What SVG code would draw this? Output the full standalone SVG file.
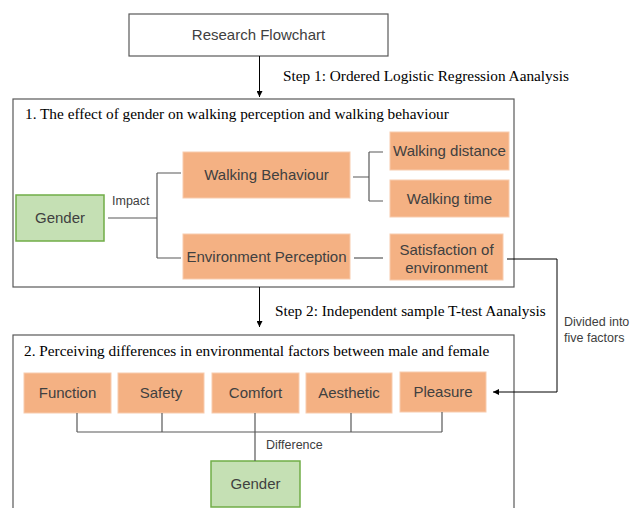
<svg xmlns="http://www.w3.org/2000/svg" width="633" height="508" viewBox="0 0 633 508">
<defs>
<marker id="arr" viewBox="0 0 10 10" refX="10" refY="5" markerWidth="6" markerHeight="6" orient="auto" markerUnits="userSpaceOnUse">
<path d="M0,0 L10,5 L0,10 z" fill="#000"/>
</marker>
<style>
.frame{fill:#fff;stroke:#595959;stroke-width:1.2}
.org{fill:#f4b183;stroke:#f8cbad;stroke-width:1}
.grn{fill:#c5e0b4;stroke:#70ad47;stroke-width:1.5}
.t{font-family:"Liberation Sans",Arial,sans-serif;font-size:15px;fill:#404040;text-anchor:middle}
.s{font-family:"Liberation Sans",Arial,sans-serif;font-size:12.5px;fill:#404040}
.serif{font-family:"Liberation Serif","Times New Roman",serif;font-size:15.3px;fill:#000}
.ln{fill:none;stroke:#595959;stroke-width:1.2}
.ar{fill:none;stroke:#000;stroke-width:1}
</style>
</defs>
<rect width="633" height="508" fill="#fff"/>

<g id="section1"><rect class="frame" x="13" y="99" width="501" height="188"/>
<text class="serif" x="25" y="119">1. The effect of gender on walking perception and walking behaviour</text></g>
<g id="section2"><rect class="frame" x="13" y="335" width="501" height="180"/>
<text class="serif" x="24" y="356">2. Perceiving differences in environmental factors between male and female</text></g>

<g id="research"><rect class="frame" x="129" y="14" width="259" height="42"/>
<text class="t" x="258.5" y="40">Research Flowchart</text></g>

<g id="gender1"><rect class="grn" x="16" y="195" width="88" height="46"/>
<text class="t" x="60" y="223">Gender</text></g>
<g id="walkingBehaviour"><rect class="org" x="183" y="152" width="167" height="46"/>
<text class="t" x="266.5" y="180">Walking Behaviour</text></g>
<g id="envPerception"><rect class="org" x="183" y="234" width="167" height="45"/>
<text class="t" x="266.5" y="262">Environment Perception</text></g>
<g id="walkingDistance"><rect class="org" x="390" y="132" width="119" height="38"/>
<text class="t" x="449.5" y="156">Walking distance</text></g>
<g id="walkingTime"><rect class="org" x="390" y="180" width="119" height="37"/>
<text class="t" x="449.5" y="204">Walking time</text></g>
<g id="satisfaction"><rect class="org" x="390" y="234" width="113" height="46"/>
<text class="t" x="446.5" y="255">Satisfaction of</text>
<text class="t" x="446.5" y="273">environment</text></g>

<g id="function"><rect class="org" x="24" y="373" width="87" height="40"/>
<text class="t" x="67.5" y="398">Function</text></g>
<g id="safety"><rect class="org" x="118" y="373" width="86" height="40"/>
<text class="t" x="161" y="398">Safety</text></g>
<g id="comfort"><rect class="org" x="212" y="373" width="87" height="40"/>
<text class="t" x="255.5" y="398">Comfort</text></g>
<g id="aesthetic"><rect class="org" x="306" y="373" width="86" height="40"/>
<text class="t" x="349" y="398">Aesthetic</text></g>
<g id="pleasure"><rect class="org" x="400" y="372" width="86" height="40"/>
<text class="t" x="443" y="397">Pleasure</text></g>
<g id="gender2"><rect class="grn" x="211" y="461" width="89" height="46"/>
<text class="t" x="255.5" y="489">Gender</text></g>

<g id="connectors">
<path class="ar" d="M259.5,56 V97" marker-end="url(#arr)"/>
<path class="ar" d="M259.5,287 V327" marker-end="url(#arr)"/>
<path class="ln" d="M108,218 H157 M157,173 V258 M157,173 H181 M157,258 H181"/>
<path class="ln" d="M353,177 H369 M369,152 V201 M369,152 H383 M369,201 H383"/>
<path class="ln" d="M354,258 H383"/>
<path class="ar" d="M507,259 H557 V392 H493" marker-end="url(#arr)"/>
<path class="ln" d="M77,413 V432 M162,413 V432 M351,413 V432 M442,412 V432 M77,432 H442 M255,413 V461"/>
<text class="s" x="112" y="205">Impact</text>
<text class="s" x="266" y="449">Difference</text>
<text class="s" x="564" y="326">Divided into</text>
<text class="s" x="564" y="342">five factors</text>
<text class="serif" x="283" y="81">Step 1: Ordered Logistic Regression Aanalysis</text>
<text class="serif" x="275" y="316">Step 2: Independent sample T-test Aanalysis</text>
</g>
</svg>
